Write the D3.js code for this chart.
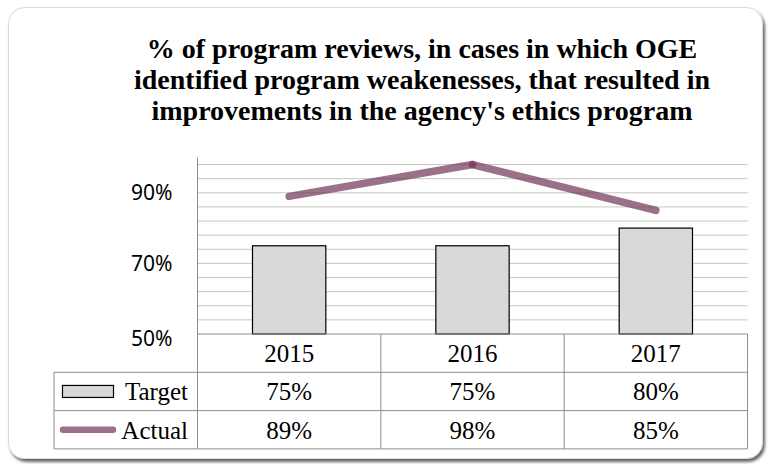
<!DOCTYPE html>
<html>
<head>
<meta charset="utf-8">
<script src="https://cdn.jsdelivr.net/npm/d3@7"></script>
<style>
  html, body { margin: 0; padding: 0; background: #fff; }
  svg { display: block; }
</style>
</head>
<body>
<div id="chart"></div>
<script>
const years = ['2015', '2016', '2017']
const target = [75, 75, 80]
const actual = [89, 98, 85]
const yTicks = [50, 70, 90]
const titleLines = [
  '% of program reviews, in cases in which OGE',
  "identified program weakenesses, that resulted in",
  "improvements in the agency's ethics program"
]

const W = 773, H = 464
const plot = { left: 197.5, right: 747.5, top: 157.5, bottom: 334 }
const rowH = 38.3
const tableLeft = 54
const serif = "'Liberation Serif', 'Times New Roman', serif"
const sans = "'Noto Sans', 'Open Sans', sans-serif"

const svg = d3.select('#chart').append('svg')
  .attr('width', W)
  .attr('height', H)

const defs = svg.append('defs')
const shadow = defs.append('filter').attr('id', 'shadow')
  .attr('x', '-5%').attr('y', '-5%').attr('width', '110%').attr('height', '112%')
shadow.append('feDropShadow')
  .attr('dx', 2).attr('dy', 3).attr('stdDeviation', 1.8)
  .attr('flood-color', '#000').attr('flood-opacity', 0.6)

// card
svg.append('rect')
  .attr('x', 8.5).attr('y', 7.5)
  .attr('width', 754).attr('height', 451)
  .attr('rx', 16)
  .attr('fill', '#fff')
  .attr('stroke', '#d9d9d9')
  .attr('filter', 'url(#shadow)')

// title
svg.append('g').selectAll('text')
  .data(titleLines)
  .enter().append('text')
  .style('font-family', serif)
  .style('font-weight', 'bold')
  .style('font-size', '28px')
  .attr('x', 422)
  .attr('y', (d, i) => 57.5 + i * 31.3)
  .attr('text-anchor', 'middle')
  .attr('fill', '#000')
  .text(d => d)

const x = d3.scaleBand().domain(years).range([plot.left, plot.right])
const y = d3.scaleLinear().domain([50, 100]).range([plot.bottom, plot.top])

// minor gridlines every 4%
const grid = d3.range(54, 100, 4)
svg.append('g').selectAll('line')
  .data(grid)
  .enter().append('line')
  .attr('x1', plot.left).attr('x2', plot.right)
  .attr('y1', d => y(d)).attr('y2', d => y(d))
  .attr('stroke', '#c6c6c6')
  .attr('stroke-width', 1)

// y axis labels
const yAxis = d3.axisLeft(y).tickValues(yTicks).tickSize(0).tickPadding(25)
  .tickFormat(d => d + '%')
const ya = svg.append('g')
  .attr('transform', 'translate(' + plot.left + ',0)')
  .call(yAxis)
ya.select('.domain').remove()
ya.selectAll('text')
  .style('font-family', sans)
  .style('font-size', '21px')
  .attr('fill', '#000')
ya.selectAll('.tick').filter(d => d === 50).select('text').attr('dy', '0.55em')

// bars
const bw = x.bandwidth() * 0.4
svg.append('g').selectAll('rect')
  .data(target)
  .enter().append('rect')
  .attr('x', (d, i) => x(years[i]) + (x.bandwidth() - bw) / 2)
  .attr('y', d => y(d))
  .attr('width', bw)
  .attr('height', d => plot.bottom - y(d))
  .attr('fill', '#d9d9d9')
  .attr('stroke', '#000')
  .attr('stroke-width', 1.2)

// actual line: separate translucent segments so the join shows darker
const cx = i => x(years[i]) + x.bandwidth() / 2
const segs = d3.pairs(actual.map((v, i) => [cx(i), y(v)]))
svg.append('g').selectAll('line')
  .data(segs)
  .enter().append('line')
  .attr('x1', d => d[0][0]).attr('y1', d => d[0][1])
  .attr('x2', d => d[1][0]).attr('y2', d => d[1][1])
  .attr('stroke', 'rgb(112,52,86)')
  .attr('stroke-opacity', 0.7)
  .attr('stroke-width', 7.5)
  .attr('stroke-linecap', 'round')

// data table
const tbl = svg.append('g')
const border = '#8e8e8e'
const colEdges = years.map(d => x(d)).concat([plot.right])

// axis line (extends through the table)
tbl.append('line')
  .attr('x1', plot.left).attr('x2', plot.left)
  .attr('y1', plot.top).attr('y2', plot.bottom + rowH * 3)
  .attr('stroke', border)
// baseline
tbl.append('line')
  .attr('x1', plot.left).attr('x2', plot.right)
  .attr('y1', plot.bottom).attr('y2', plot.bottom)
  .attr('stroke', border)
// row lines
;[1, 2, 3].forEach(r => {
  tbl.append('line')
    .attr('x1', tableLeft).attr('x2', plot.right)
    .attr('y1', plot.bottom + rowH * r).attr('y2', plot.bottom + rowH * r)
    .attr('stroke', border)
})
// column lines
colEdges.slice(1).forEach(cxv => {
  tbl.append('line')
    .attr('x1', cxv).attr('x2', cxv)
    .attr('y1', plot.bottom).attr('y2', plot.bottom + rowH * 3)
    .attr('stroke', border)
})
tbl.append('line')
  .attr('x1', tableLeft).attr('x2', tableLeft)
  .attr('y1', plot.bottom + rowH).attr('y2', plot.bottom + rowH * 3)
  .attr('stroke', border)

const rows = [years, target.map(d => d + '%'), actual.map(d => d + '%')]
rows.forEach((row, r) => {
  tbl.selectAll('.r' + r)
    .data(row)
    .enter().append('text')
    .style('font-family', serif)
    .style('font-size', '25px')
    .attr('x', (d, i) => cx(i))
    .attr('y', plot.bottom + rowH * r + rowH / 2)
    .attr('dy', '0.35em')
    .attr('text-anchor', 'middle')
    .attr('fill', '#000')
    .text(d => d)
})

// legend cells
const legY1 = plot.bottom + rowH * 1.5
const legY2 = plot.bottom + rowH * 2.5
tbl.append('rect')
  .attr('x', 62.5).attr('y', legY1 - 6)
  .attr('width', 51).attr('height', 12)
  .attr('fill', '#d9d9d9')
  .attr('stroke', '#000')
  .attr('stroke-width', 1.2)
tbl.append('line')
  .attr('x1', 63).attr('x2', 113)
  .attr('y1', legY2).attr('y2', legY2)
  .attr('stroke', 'rgb(112,52,86)')
  .attr('stroke-opacity', 0.7)
  .attr('stroke-width', 6.5)
  .attr('stroke-linecap', 'round')
tbl.selectAll('.leg')
  .data(['Target', 'Actual'])
  .enter().append('text')
  .style('font-family', serif)
  .style('font-size', '25px')
  .attr('x', 188)
  .attr('y', (d, i) => i === 0 ? legY1 : legY2)
  .attr('dy', '0.35em')
  .attr('text-anchor', 'end')
  .attr('fill', '#000')
  .text(d => d)
</script>
</body>
</html>
